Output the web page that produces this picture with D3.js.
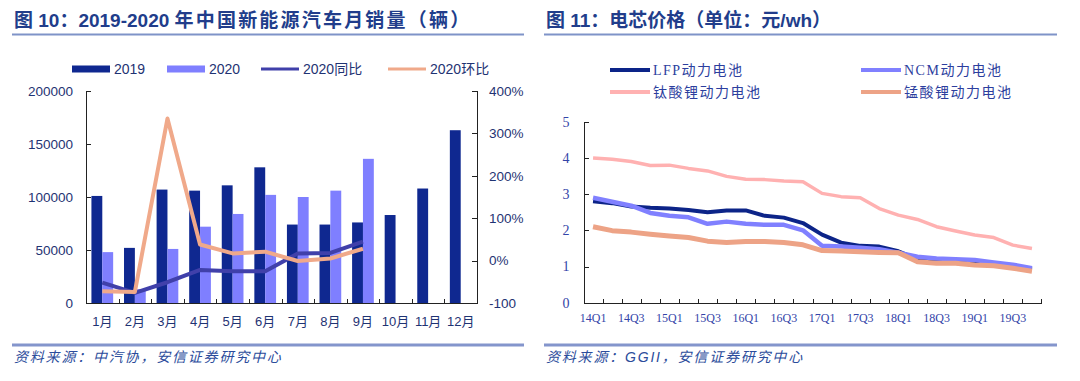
<!DOCTYPE html>
<html lang="zh">
<head>
  <meta charset="utf-8">
  <title>新能源汽车月销量与电芯价格</title>
  <script src="https://d3js.org/d3.v7.min.js"></script>
<style>
body { margin: 0; background: #fff; }
svg { display: block; }
.sans { font-family: "Liberation Sans", Arial, "Noto Sans CJK SC", sans-serif; }
.serif { font-family: "Liberation Serif", "Times New Roman", "Noto Sans CJK SC", serif; }
.axis path, .axis line { stroke: #222; shape-rendering: crispEdges; }
</style>
</head>
<body>
<svg width="1080" height="381"></svg>
<script>

// 图10 数据
var months = ['1月', '2月', '3月', '4月', '5月', '6月', '7月', '8月', '9月', '10月', '11月', '12月']
var sales2019 = [101000, 52000, 107000, 106000, 111000, 128000, 74000, 74000, 76000, 83000, 108000, 163000]
var sales2020 = [48000, 13000, 51000, 72000, 84000, 102000, 100000, 106000, 136000]
var yoy2020 = [-0.52, -0.76, -0.51, -0.22, -0.25, -0.25, 0.17, 0.18, 0.45]
var mom2020 = [-0.72, -0.74, 3.35, 0.38, 0.17, 0.21, -0.01, 0.05, 0.28]
var salesTicks = [0, 50000, 100000, 150000, 200000]
var pctTicks = [-1, 0, 1, 2, 3, 4]

// 图11 数据
var quarters = ['14Q1', '14Q2', '14Q3', '14Q4', '15Q1', '15Q2', '15Q3', '15Q4',
  '16Q1', '16Q2', '16Q3', '16Q4', '17Q1', '17Q2', '17Q3', '17Q4',
  '18Q1', '18Q2', '18Q3', '18Q4', '19Q1', '19Q2', '19Q3', '19Q4']
var lfp = [2.8, 2.75, 2.66, 2.62, 2.6, 2.56, 2.5, 2.55, 2.55, 2.4, 2.35, 2.2,
  1.88, 1.66, 1.57, 1.55, 1.42, 1.2, 1.15, 1.13, 1.09, 1.07, 1.01, 0.92]
var ncm = [2.9, 2.79, 2.68, 2.48, 2.4, 2.36, 2.18, 2.24, 2.18, 2.15, 2.15, 2.0,
  1.57, 1.55, 1.52, 1.48, 1.38, 1.27, 1.22, 1.2, 1.18, 1.11, 1.05, 0.95]
var lto = [4.0, 3.96, 3.9, 3.79, 3.8, 3.71, 3.64, 3.49, 3.41, 3.4, 3.36, 3.34,
  3.02, 2.93, 2.9, 2.6, 2.42, 2.3, 2.1, 1.98, 1.87, 1.8, 1.59, 1.5]
var lmo = [2.1, 1.99, 1.95, 1.89, 1.84, 1.8, 1.7, 1.66, 1.69, 1.69, 1.66, 1.6,
  1.44, 1.43, 1.41, 1.39, 1.38, 1.13, 1.09, 1.09, 1.04, 1.02, 0.95, 0.87]
var priceTicks = [0, 1, 2, 3, 4, 5]
var quarterLabels = ['14Q1', '14Q3', '15Q1', '15Q3', '16Q1', '16Q3', '17Q1', '17Q3', '18Q1', '18Q3', '19Q1', '19Q3']

var navy = '#1f3373'
var blueText = '#3344a8'
var svg = d3.select('svg')

svg.append('rect').attr('width', 1080).attr('height', 381).attr('fill', '#fff')

// title: [plain part, spaced CJK part]
function frame(x0, x1, title, spaced, source) {
  var t = svg.append('text')
    .attr('class', 'sans')
    .attr('x', x0 + 2)
    .attr('y', 27)
    .attr('font-size', 19)
    .attr('font-weight', 'bold')
    .attr('fill', '#213d8b')
  t.append('tspan').text(title)
  t.append('tspan').attr('letter-spacing', spaced ? 2.2 : 0).text(spaced || '')
  svg.append('line')
    .attr('x1', x0).attr('x2', x1)
    .attr('y1', 34.5).attr('y2', 34.5)
    .attr('stroke', '#7f93c8').attr('stroke-width', 2)
  svg.append('line')
    .attr('x1', x0).attr('x2', x1)
    .attr('y1', 345).attr('y2', 345)
    .attr('stroke', '#8495cc').attr('stroke-width', 3)
  svg.append('text')
    .attr('class', 'sans')
    .attr('x', x0 + 2)
    .attr('y', 362)
    .attr('font-size', 14)
    .attr('font-style', 'italic')
    .attr('letter-spacing', 1.8)
    .attr('fill', '#2b4c9b')
    .text(source)
}

function drawSales() {
  frame(12, 524, '图 10：2019-2020 ', '年中国新能源汽车月销量（辆）', '资料来源：中汽协，安信证券研究中心')

  var x = d3.scaleBand().domain(months).range([86, 477])
  var y = d3.scaleLinear().domain([0, 200000]).range([303, 91])
  var yr = d3.scaleLinear().domain([-1, 4]).range([303, 91])
  var bw = x.bandwidth() / 3

  var g = svg.append('g')

  g.selectAll('.b19')
    .data(sales2019)
    .enter().append('rect')
    .attr('x', (d, i) => x(months[i]) + bw / 2)
    .attr('y', d => y(d))
    .attr('width', bw)
    .attr('height', d => y(0) - y(d))
    .attr('fill', '#0f2890')

  g.selectAll('.b20')
    .data(sales2020)
    .enter().append('rect')
    .attr('x', (d, i) => x(months[i]) + bw * 1.5)
    .attr('y', d => y(d))
    .attr('width', bw)
    .attr('height', d => y(0) - y(d))
    .attr('fill', '#7f7fff')

  var line = d3.line()
    .x((d, i) => x(months[i]) + x.bandwidth() / 2)
    .y(d => yr(d))

  g.append('path')
    .attr('d', line(yoy2020))
    .attr('fill', 'none')
    .attr('stroke', '#4040aa')
    .attr('stroke-width', 4)
    .attr('stroke-linejoin', 'round')

  g.append('path')
    .attr('d', line(mom2020))
    .attr('fill', 'none')
    .attr('stroke', '#f0a98a')
    .attr('stroke-width', 4)
    .attr('stroke-linejoin', 'round')

  var left = svg.append('g')
    .attr('class', 'axis sans')
    .attr('transform', 'translate(86,0)')
    .call(d3.axisLeft(y).tickValues(salesTicks).tickSize(-5).tickPadding(13).tickFormat(d3.format('d')))
  left.selectAll('text').attr('font-size', 13.5).attr('fill', navy).attr('font-family', null)

  var right = svg.append('g')
    .attr('class', 'axis sans')
    .attr('transform', 'translate(477,0)')
    .call(d3.axisRight(yr).tickValues(pctTicks).tickSize(-5).tickPadding(12)
      .tickFormat(d => d === -1 ? '-100' : Math.round(d * 100) + '%'))
  right.selectAll('text').attr('font-size', 13.5).attr('fill', navy).attr('font-family', null)

  var bottom = svg.append('g')
    .attr('class', 'axis sans')
    .attr('transform', 'translate(0,303)')
    .call(d3.axisBottom(x).tickSize(0).tickPadding(14))
  bottom.select('.domain').remove()
  bottom.selectAll('text').attr('font-size', 13).attr('fill', navy).attr('font-family', null)
  bottom.selectAll('.bound')
    .data(months.slice(1))
    .enter().append('line')
    .attr('x1', d => Math.round(x(d)) + 0.5).attr('x2', d => Math.round(x(d)) + 0.5)
    .attr('y1', 0).attr('y2', -4)
  bottom.append('line')
    .attr('x1', 86).attr('x2', 477)
    .attr('y1', 0.5).attr('y2', 0.5)

  // 图例
  var legend = [
    {name: '2019', color: '#0f2890', x: 72, bar: true},
    {name: '2020', color: '#7f7fff', x: 167, bar: true},
    {name: '2020同比', color: '#4040aa', x: 261, bar: false},
    {name: '2020环比', color: '#f0a98a', x: 388, bar: false}
  ]
  var lg = svg.append('g').attr('class', 'sans')
  lg.selectAll('rect')
    .data(legend)
    .enter().append('rect')
    .attr('x', d => d.x)
    .attr('y', d => d.bar ? 65.5 : 67.5)
    .attr('width', 38)
    .attr('height', d => d.bar ? 7 : 3)
    .attr('fill', d => d.color)
  lg.selectAll('text')
    .data(legend)
    .enter().append('text')
    .attr('x', d => d.x + 42)
    .attr('y', 74)
    .attr('font-size', 14)
    .attr('fill', navy)
    .text(d => d.name)
}

function drawPrice() {
  frame(544, 1057, '图 11：电芯价格（单位：元/wh）', null, '资料来源：GGII，安信证券研究中心')

  var x = d3.scaleBand().domain(quarters).range([583.5, 1041.5])
  var y = d3.scaleLinear().domain([0, 5]).range([302.7, 121.7])

  var series = [
    {name: 'LFP动力电池', values: lfp, color: '#0c2488', width: 4, lx: 610, ly: 70},
    {name: 'NCM动力电池', values: ncm, color: '#8080ff', width: 4.5, lx: 861, ly: 70},
    {name: '钛酸锂动力电池', values: lto, color: '#ffb1b1', width: 3.5, lx: 610, ly: 92},
    {name: '锰酸锂动力电池', values: lmo, color: '#eda386', width: 5, lx: 861, ly: 92}
  ]

  var line = d3.line()
    .x((d, i) => x(quarters[i]) + x.bandwidth() / 2)
    .y(d => y(d))

  svg.append('g').selectAll('path')
    .data(series)
    .enter().append('path')
    .attr('d', d => line(d.values))
    .attr('fill', 'none')
    .attr('stroke', d => d.color)
    .attr('stroke-width', d => d.width)
    .attr('stroke-linejoin', 'round')

  var left = svg.append('g')
    .attr('class', 'axis serif')
    .attr('transform', 'translate(583.5,0)')
    .call(d3.axisLeft(y).tickValues(priceTicks).tickSize(-5).tickPadding(14).tickFormat(d3.format('d')))
  left.selectAll('text').attr('font-size', 14).attr('fill', blueText).attr('font-family', null)

  var bottom = svg.append('g')
    .attr('class', 'axis serif')
    .attr('transform', 'translate(0,303)')
    .call(d3.axisBottom(x).tickValues(quarterLabels).tickSize(0).tickPadding(10))
  bottom.select('.domain').remove()
  bottom.selectAll('text').attr('font-size', 12).attr('fill', blueText).attr('font-family', null)
  bottom.selectAll('.bound')
    .data(quarters.slice(1).concat(['end']))
    .enter().append('line')
    .attr('x1', d => d === 'end' ? 1041.5 : Math.round(x(d)) + 0.5)
    .attr('x2', d => d === 'end' ? 1041.5 : Math.round(x(d)) + 0.5)
    .attr('y1', 0).attr('y2', -4)
  bottom.append('line')
    .attr('x1', 583.5).attr('x2', 1041.5)
    .attr('y1', 0.5).attr('y2', 0.5)

  // 图例
  var lg = svg.append('g').attr('class', 'serif')
  lg.selectAll('line')
    .data(series)
    .enter().append('line')
    .attr('x1', d => d.lx).attr('x2', d => d.lx + 40)
    .attr('y1', d => d.ly).attr('y2', d => d.ly)
    .attr('stroke', d => d.color)
    .attr('stroke-width', 4)
  lg.selectAll('text')
    .data(series)
    .enter().append('text')
    .attr('x', d => d.lx + 43)
    .attr('y', d => d.ly + 5)
    .attr('font-size', 14)
    .attr('letter-spacing', 1.5)
    .attr('fill', '#2c3e9e')
    .text(d => d.name)
}

drawSales()
drawPrice()

</script>
</body>
</html>
